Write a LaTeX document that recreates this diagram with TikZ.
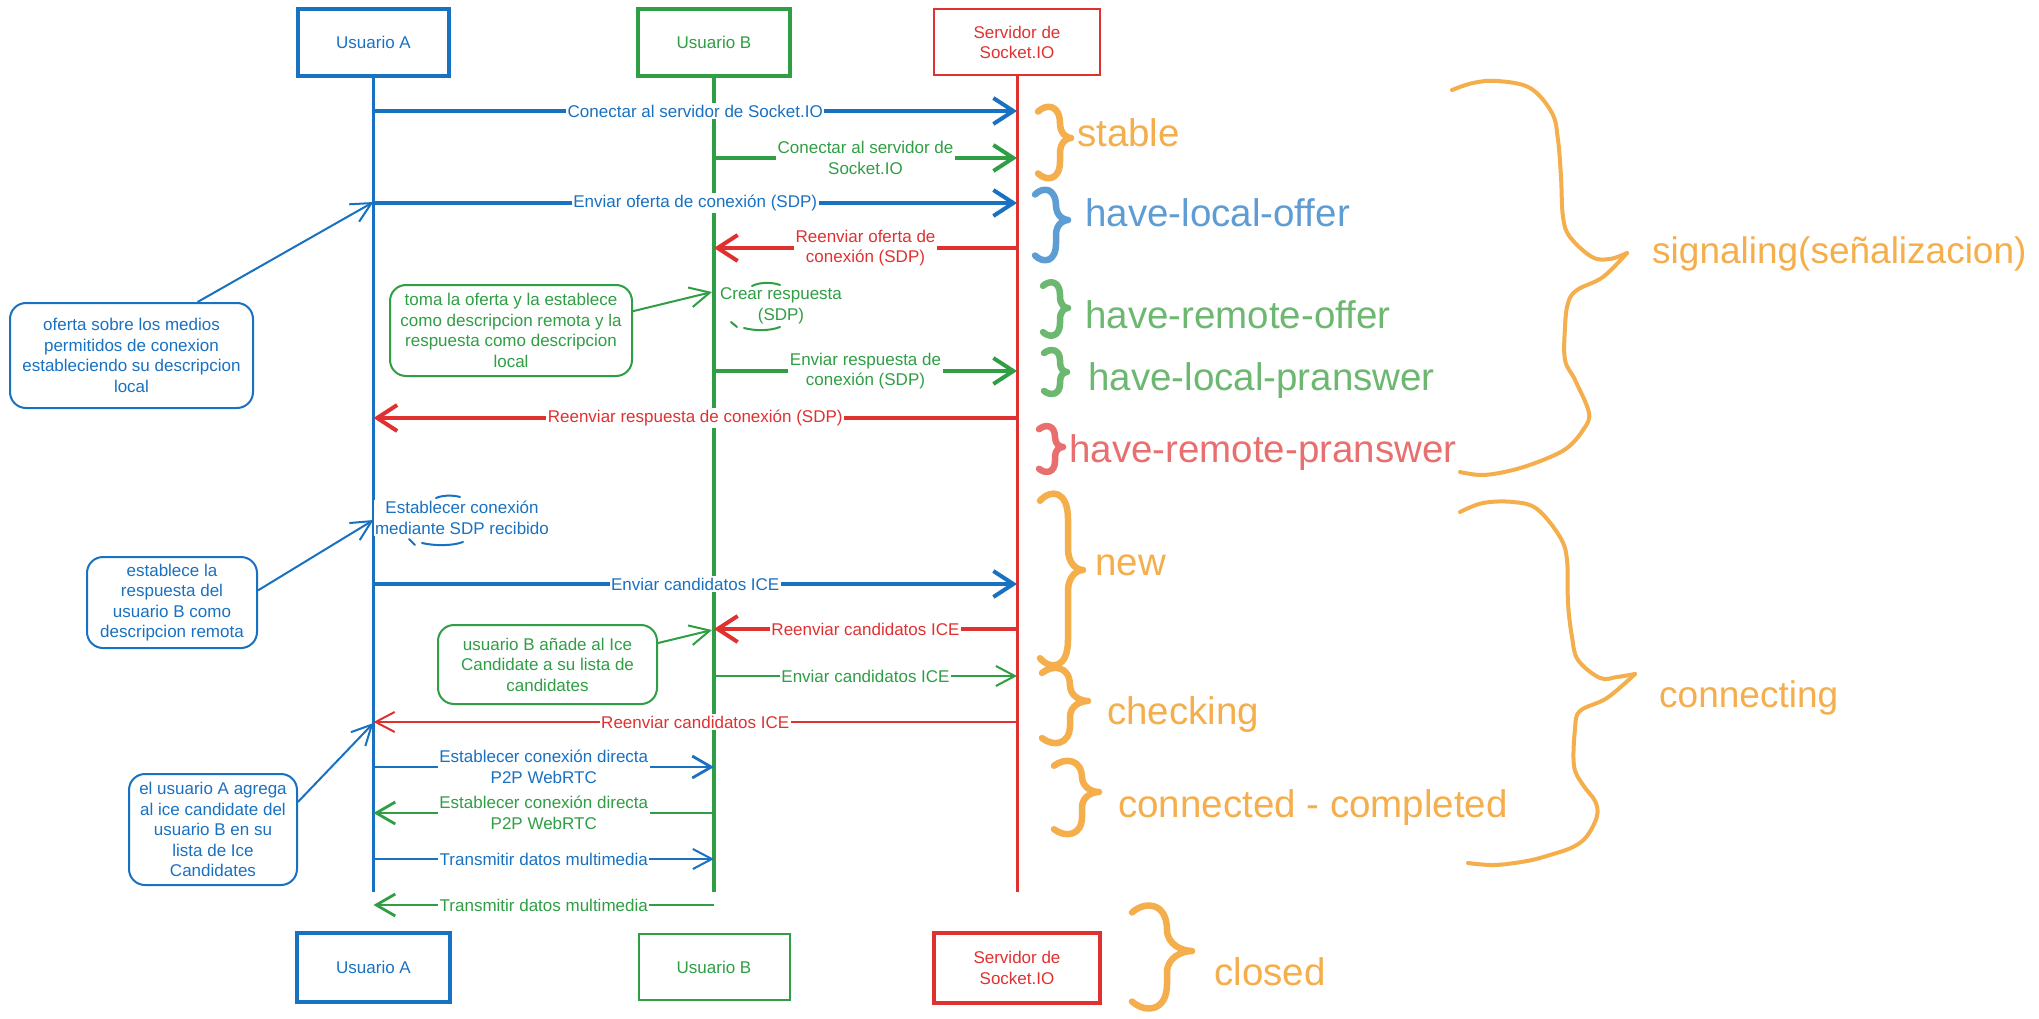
\documentclass[tikz,border=0pt]{standalone}
\usepackage{fontspec}
\setmainfont{Liberation Sans}
\usetikzlibrary{arrows.meta}
\definecolor{cA}{HTML}{1971C2}
\definecolor{cB}{HTML}{2F9E44}
\definecolor{cS}{HTML}{E03131}
\definecolor{lA}{HTML}{5E9CD4}
\definecolor{lB}{HTML}{6DB870}
\definecolor{lS}{HTML}{E96F6F}
\definecolor{lO}{HTML}{F5AE4C}
\newcommand{\cbrace}[7]{%
  \pgfmathsetmacro\brC{min(#6,0.25*(#4-#3))}%
  \pgfmathsetmacro\brD{min(0.75*#6,0.2*(#4-#3))}%
  \draw[bracestyle,#1] ({#2},{#3+0.35*\brC}) .. controls ({#2+0.4*#6},{#3-0.1*\brC}) and ({#2+#6},{#3}) .. ({#2+#6},{#3+\brC})
   -- ({#2+#6},{#5-\brD}) .. controls ({#2+#6},{#5-0.3*\brD}) and ({#2+0.6*#7+0.4*#6},{#5}) .. ({#2+#7},{#5})
   .. controls ({#2+0.6*#7+0.4*#6},{#5}) and ({#2+#6},{#5+0.3*\brD}) .. ({#2+#6},{#5+\brD})
   -- ({#2+#6},{#4-\brC}) .. controls ({#2+#6},{#4}) and ({#2+0.4*#6},{#4+0.1*\brC}) .. ({#2},{#4-0.35*\brC});%
}
\begin{document}
\begin{tikzpicture}[x=1pt,y=-1pt,
  every node/.style={font=\fontsize{17}{20.5}\selectfont},
  hdr/.style={draw, align=center, inner sep=0pt},
  lbl/.style={fill=white, inner sep=1.5pt, align=center},
  note/.style={draw, line width=2pt, rounded corners=16pt, align=center, inner sep=0pt},
  thickmsg/.style={line width=4pt, -{Straight Barb[length=20pt 0,width=26pt 0,line width=4pt]}},
  midmsg/.style={line width=2.8pt, -{Straight Barb[length=19pt 0,width=22pt 0,line width=2.8pt]}},
  thinmsg/.style={line width=2pt, -{Straight Barb[length=19pt 0,width=20pt 0,line width=2pt]}},
  conn/.style={line width=2pt, -{Straight Barb[length=20pt 0,width=20pt 0,line width=2pt]}},
  loopstroke/.style={line width=2pt, line cap=round},
  bracestyle/.style={line width=6.5pt, line cap=round, line join=round},
  bigbrace/.style={line width=4pt, line cap=round, line join=round, draw=lO},
  state/.style={font=\fontsize{38.5}{44}\selectfont, anchor=base west, inner sep=0pt},
  group/.style={font=\fontsize{37}{42}\selectfont, anchor=base west, inner sep=0pt, text=lO}]
\fill[white] (0,0) rectangle (2039,1019);
\useasboundingbox (0,0) rectangle (2039,1019);

% headers
\node[hdr, draw=cA, line width=4pt, text=cA, minimum width=151pt, minimum height=67pt] (hA) at (373.5,42.5) {Usuario A};
\node[hdr, draw=cB, line width=4pt, text=cB, minimum width=152pt, minimum height=67pt] (hB) at (714,42.5) {Usuario B};
\node[hdr, draw=cS, line width=2pt, text=cS, minimum width=166pt, minimum height=66pt] (hS) at (1017,42.5) {Servidor de\\Socket.IO};
% footers
\node[hdr, draw=cA, line width=4pt, text=cA, minimum width=153pt, minimum height=69pt] (fA) at (373.5,967.5) {Usuario A};
\node[hdr, draw=cB, line width=2pt, text=cB, minimum width=151pt, minimum height=66pt] (fB) at (714,967) {Usuario B};
\node[hdr, draw=cS, line width=4pt, text=cS, minimum width=166pt, minimum height=70pt] (fS) at (1017,968) {Servidor de\\Socket.IO};

% lifelines
\coordinate (eA) at (373.5,892);
\coordinate (eB) at (714,892);
\coordinate (eS) at (1017,892);
\draw[cA, line width=3pt] (hA.south) -- (eA);
\draw[cB, line width=4pt] (hB.south) -- (eB);
\draw[cS, line width=3pt] (hS.south) -- (eS);

% message levels
\coordinate (m1) at (0,111);
\coordinate (m2) at (0,158);
\coordinate (m3) at (0,203);
\coordinate (m4) at (0,248);
\coordinate (m6) at (0,371);
\coordinate (m7) at (0,418);
\coordinate (m9) at (0,584);
\coordinate (m10) at (0,629);
\coordinate (m11) at (0,676);
\coordinate (m12) at (0,722);
\coordinate (m13) at (0,767);
\coordinate (m14) at (0,813);
\coordinate (m15) at (0,859);
\coordinate (m16) at (0,905);

\draw[cA, thickmsg] (hA |- m1) -- (hS |- m1) node[midway, lbl, text=cA] {Conectar al servidor de Socket.IO};
\draw[cB, thickmsg] (hB |- m2) -- (hS |- m2) node[midway, lbl, text=cB] {Conectar al servidor de\\Socket.IO};
\draw[cA, thickmsg] (hA |- m3) -- (hS |- m3) node[midway, lbl, text=cA] {Enviar oferta de conexión (SDP)};
\draw[cS, thickmsg] (hS |- m4) -- (hB |- m4) node[midway, lbl, text=cS] {Reenviar oferta de\\conexión (SDP)};

% self message B (only fragments of its loop show)
\node[lbl, text=cB] (selfB) at (781,306) {Crear respuesta\\(SDP)};
\draw[cB, loopstroke] (752,286) .. controls (760,282) and (772,282) .. (780,285);
\draw[cB, loopstroke] (731,322) -- (737,327);
\draw[cB, loopstroke] (744,328) .. controls (755,331) and (770,331) .. (780,327);

\draw[cB, thickmsg] (hB |- m6) -- (hS |- m6) node[midway, lbl, text=cB] {Enviar respuesta de\\conexión (SDP)};
\draw[cS, thickmsg] (hS |- m7) -- (hA |- m7) node[midway, lbl, text=cS] {Reenviar respuesta de conexión (SDP)};

% self message A (only fragments of its loop show)
\node[lbl, text=cA] (selfA) at (462,518) {Establecer conexión\\mediante SDP recibido};
\draw[cA, loopstroke] (436,498) .. controls (443,495) and (453,495) .. (460,497);
\draw[cA, loopstroke] (409,539) -- (415,545);
\draw[cA, loopstroke] (422,543) .. controls (435,546) and (452,546) .. (463,542);

\draw[cA, thickmsg] (hA |- m9) -- (hS |- m9) node[midway, lbl, text=cA] {Enviar candidatos ICE};
\draw[cS, thickmsg] (hS |- m10) -- (hB |- m10) node[midway, lbl, text=cS] {Reenviar candidatos ICE};
\draw[cB, thinmsg] (hB |- m11) -- (hS |- m11) node[midway, lbl, text=cB] {Enviar candidatos ICE};
\draw[cS, thinmsg] (hS |- m12) -- (hA |- m12) node[midway, lbl, text=cS] {Reenviar candidatos ICE};
\draw[cA, midmsg] (hA |- m13) -- (hB |- m13) node[midway, lbl, text=cA] {Establecer conexión directa\\P2P WebRTC};
\draw[cB, midmsg] (hB |- m14) -- (hA |- m14) node[midway, lbl, text=cB] {Establecer conexión directa\\P2P WebRTC};
\draw[cA, thinmsg] (hA |- m15) -- (hB |- m15) node[midway, lbl, text=cA] {Transmitir datos multimedia};
\draw[cB, midmsg] (hB |- m16) -- (hA |- m16) node[midway, lbl, text=cB] {Transmitir datos multimedia};

% notes
\node[note, draw=cA, text=cA, minimum width=243pt, minimum height=105pt] (n1) at (131.5,355.5)
  {oferta sobre los medios\\permitidos de conexion\\estableciendo su descripcion\\local};
\node[note, draw=cB, text=cB, minimum width=242pt, minimum height=91pt] (g1) at (511,330.5)
  {toma la oferta y la establece\\como descripcion remota y la\\respuesta como descripcion\\local};
\node[note, draw=cA, text=cA, minimum width=170pt, minimum height=91pt] (n2) at (172,602.5)
  {establece la\\respuesta del\\usuario B como\\descripcion remota};
\node[note, draw=cB, text=cB, minimum width=219pt, minimum height=79pt] (g2) at (547.5,664.5)
  {usuario B añade al Ice\\Candidate a su lista de\\candidates};
\node[note, draw=cA, text=cA, minimum width=168pt, minimum height=111pt] (n3) at (213,829.5)
  {el usuario A agrega\\al ice candidate del\\usuario B en su\\lista de Ice\\Candidates};

\coordinate (t1) at (373.5,202);
\coordinate (t2) at (712,292);
\coordinate (t3) at (373.5,520);
\coordinate (t4) at (712,630);
\coordinate (t5) at (373.5,723);
\draw[cA, conn] (n1.39) -- (t1);
\draw[cB, conn] (g1.9) -- (t2);
\draw[cA, conn] (n2.8) -- (t3);
\draw[cB, conn] (g2.11) -- (t4);
\draw[cA, conn] (n3.18) -- (t5);

% small braces and state labels
\cbrace{lO}{1038}{105}{180}{138}{22}{33}
\node[state, text=lO] (sStable) at (1077,147) {stable};
\cbrace{lA}{1035}{188}{262}{220}{21}{33}
\node[state, text=lA] (sHLO) at (1085,226) {have-local-offer};
\cbrace{lB}{1043}{281}{337}{308}{17}{25}
\node[state, text=lB] (sHRO) at (1085,328) {have-remote-offer};
\cbrace{lB}{1044}{349}{395}{372}{16}{23}
\node[state, text=lB] (sHLP) at (1088,390) {have-local-pranswer};
\cbrace{lS}{1039}{425}{473}{447}{16}{24}
\node[state, text=lS] (sHRP) at (1069,462) {have-remote-pranswer};
\cbrace{lO}{1040}{491}{668}{570}{28}{43}
\node[state, text=lO] (sNew) at (1095,575) {new};
\cbrace{lO}{1042}{666}{745}{701}{28}{46}
\node[state, text=lO] (sChk) at (1107,724) {checking};
\cbrace{lO}{1054}{759}{836}{792}{28}{45}
\node[state, text=lO] (sCon) at (1118,817) {connected - completed};
\cbrace{lO}{1132}{903}{1011}{951}{35}{60}
\node[state, text=lO] (sClo) at (1214,985) {closed};

% big braces
\draw[bigbrace] plot[smooth, tension=0.6] coordinates {(1452,90) (1473,83) (1497,81) (1530,88) (1552,113) (1558,140) (1561,177) (1563,217) (1570,237) (1592,257) (1610,259) (1627,253)};
\draw[bigbrace] plot[smooth, tension=0.6] coordinates {(1627,253) (1603,277) (1577,290) (1568,303) (1565,327) (1565,360) (1575,380) (1589,413) (1583,430) (1567,448) (1543,460) (1513,470) (1483,475) (1460,472)};
\node[group] (gSig) at (1652,263) {signaling(señalizacion)};
\draw[bigbrace] plot[smooth, tension=0.6] coordinates {(1460,512) (1483,503) (1513,502) (1537,509) (1560,537) (1567,560) (1568,603) (1572,637) (1578,660) (1600,678) (1617,677) (1635,674)};
\draw[bigbrace] plot[smooth, tension=0.6] coordinates {(1635,674) (1607,698) (1580,711) (1575,729) (1574,766) (1583,785) (1595,801) (1597,816) (1587,836) (1573,847) (1550,855) (1527,861) (1495,865) (1468,863)};
\node[group] (gCon) at (1659,707) {connecting};
\end{tikzpicture}
\end{document}
